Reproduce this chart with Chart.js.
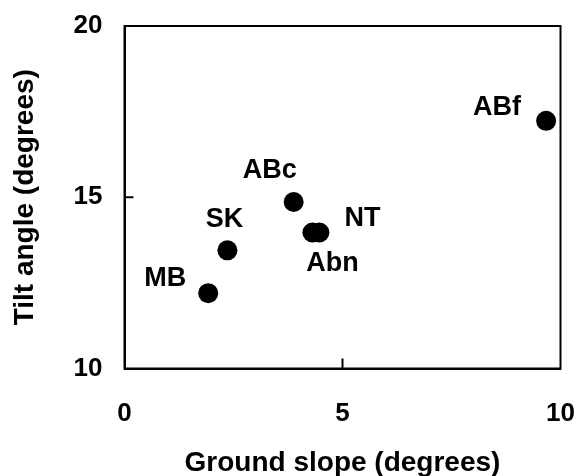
<!DOCTYPE html>
<html>
<head>
<meta charset="utf-8">
<script src="https://cdn.jsdelivr.net/npm/chart.js@4"></script>
<style>
  html, body { margin: 0; padding: 0; background: #fff; }
  #wrap { width: 578px; height: 476px; }
</style>
</head>
<body>
<div id="wrap"><canvas id="c" width="578" height="476"></canvas></div>
<script>
// Data
const siteNames   = ['MB', 'SK', 'ABc', 'Abn', 'NT', 'ABf'];
const groundSlope = [1.92, 2.36, 3.88, 4.31, 4.47, 9.67];
const tiltAngle   = [12.20, 13.45, 14.86, 13.97, 13.97, 17.23];
const xTicks = [0, 5, 10];
const yTicks = [10, 15, 20];

// Label placement (pixel offsets from each point), kept separate from data
const labelOffsets = [[-43, -16], [-3, -32], [-24, -32], [20, 30], [43, -15], [-49, -14]];

const FONT = '"Liberation Sans", Arial, sans-serif';

const points = siteNames.map((n, i) => ({ x: groundSlope[i], y: tiltAngle[i] }));

const framePlugin = {
  id: 'frame',
  afterDatasetsDraw(chart) {
    const ctx = chart.ctx;
    const a = chart.chartArea;
    const xs = chart.scales.x, ys = chart.scales.y;
    ctx.save();
    ctx.strokeStyle = '#000';
    ctx.lineWidth = 2;
    ctx.strokeRect(a.left, a.top, a.right - a.left, a.bottom - a.top);
    // inward tick marks (interior ticks only)
    ctx.beginPath();
    xTicks.slice(1, -1).forEach(v => {
      const px = xs.getPixelForValue(v);
      ctx.moveTo(px, a.bottom);
      ctx.lineTo(px, a.bottom - 10);
    });
    yTicks.slice(1, -1).forEach(v => {
      const py = ys.getPixelForValue(v);
      ctx.moveTo(a.left, py);
      ctx.lineTo(a.left + 9, py);
    });
    ctx.stroke();
    // point labels
    const meta = chart.getDatasetMeta(0);
    ctx.fillStyle = '#000';
    ctx.font = 'bold 27px ' + FONT;
    ctx.textAlign = 'center';
    ctx.textBaseline = 'middle';
    meta.data.forEach((el, i) => {
      const o = labelOffsets[i];
      ctx.fillText(siteNames[i], el.x + o[0], el.y + o[1] + 1);
    });
    ctx.restore();
  }
};

new Chart(document.getElementById('c'), {
  type: 'scatter',
  data: {
    datasets: [{
      data: points,
      backgroundColor: '#000',
      borderColor: '#000',
      borderWidth: 0,
      pointRadius: 10,
      pointHoverRadius: 10,
      clip: false
    }]
  },
  options: {
    responsive: false,
    animation: false,
    devicePixelRatio: 1,
    plugins: { legend: { display: false }, tooltip: { enabled: false } },
    layout: { autoPadding: false, padding: { top: 26, right: 17.5, bottom: 0, left: 0 } },
    scales: {
      x: {
        type: 'linear',
        min: 0, max: 10,
        afterBuildTicks: s => { s.ticks = xTicks.map(v => ({ value: v })); },
        afterFit: s => { s.height = 107.5; s.paddingLeft = 0; s.paddingRight = 0; },
        grid: { display: false, drawTicks: false },
        border: { display: true, color: '#000', width: 2 },
        ticks: {
          color: '#000',
          padding: 32.5,
          font: { family: FONT, size: 26, weight: 'bold', lineHeight: 1 },
          maxRotation: 0
        },
        title: {
          display: true,
          text: 'Ground slope (degrees)',
          color: '#000',
          font: { family: FONT, size: 28, weight: 'bold', lineHeight: 0.25 },
          padding: { top: 0, bottom: 9.5 }
        }
      },
      y: {
        type: 'linear',
        min: 10, max: 20,
        afterBuildTicks: s => { s.ticks = yTicks.map(v => ({ value: v })); },
        afterFit: s => { s.width = 124.5; s.paddingTop = 0; s.paddingBottom = 0; },
        grid: { display: false, drawTicks: false },
        border: { display: true, color: '#000', width: 2 },
        ticks: {
          color: '#000',
          padding: 22,
          font: { family: FONT, size: 26, weight: 'bold', lineHeight: 1 }
        },
        title: {
          display: true,
          text: 'Tilt angle (degrees)',
          color: '#000',
          font: { family: FONT, size: 28, weight: 'bold', lineHeight: 1 },
          padding: { top: 11, bottom: 12.6 }
        }
      }
    }
  },
  plugins: [framePlugin]
});
</script>
</body>
</html>
